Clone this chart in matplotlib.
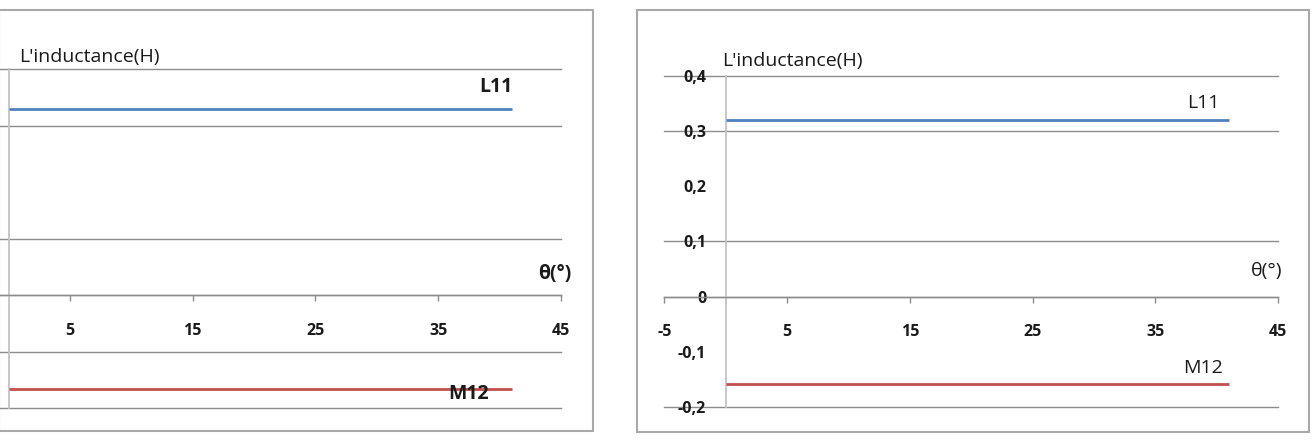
import matplotlib
matplotlib.use("Agg")
import matplotlib.pyplot as plt
import numpy as np
from matplotlib.patches import Rectangle

# ---------------- data ----------------
theta = [0, 5, 10, 15, 20, 25, 30, 35, 41]
L11_left = [0.329] * len(theta)
M12_left = [-0.166] * len(theta)
L11_right = [0.319] * len(theta)
M12_right = [-0.159] * len(theta)

x_ticks = [-5, 5, 15, 25, 35, 45]
x_tick_labels = ["-5", "5", "15", "25", "35", "45"]
y_ticks = [-0.2, -0.1, 0.0, 0.1, 0.2, 0.3, 0.4]
y_tick_labels = ["-0,2", "-0,1", "0", "0,1", "0,2", "0,3", "0,4"]
grid_left = [0.4, 0.3, 0.1, 0.0, -0.1, -0.2]
grid_right = [0.4, 0.3, 0.1, 0.0, -0.2]

ylabel_text = "L'inductance(H)"
xlabel_text = "θ(°)"
name_L = "L11"
name_M = "M12"

plt.rcParams['font.family'] = ['Open Sans', 'DejaVu Sans']

W, H = 1313, 441
fig = plt.figure(figsize=(W / 100, H / 100), dpi=100)

BLUE = "#4F81BD"
RED = "#C0504D"
GRID = "#8c8c8c"
YAX = "#c4c4c4"
FRAME = "#a8a8a8"

# frames
fig.patches.append(Rectangle((-1 / W, 10 / H), 594 / W, 421 / H, transform=fig.transFigure,
                             fill=False, ec=FRAME, lw=1.5, zorder=0))
fig.patches.append(Rectangle((637 / W, 9 / H), 672 / W, 422 / H, transform=fig.transFigure,
                             fill=False, ec=FRAME, lw=1.5, zorder=0))


def setup(ax, grid_vals, L, M, txt, cropped):
    ax.set_xlim(-5, 45)
    ax.set_ylim(-0.2, 0.4)
    ax.patch.set_alpha(0)
    for v in grid_vals:
        ax.axhline(v, color=GRID, lw=1.0, zorder=1, clip_on=False)
    for s in ['top', 'right']:
        ax.spines[s].set_visible(False)
    ax.spines['bottom'].set_position(('data', 0))
    ax.spines['bottom'].set_color(GRID)
    ax.spines['bottom'].set_linewidth(1.0)
    ax.spines['left'].set_position(('data', 0))
    ax.spines['left'].set_color(YAX)
    ax.spines['left'].set_linewidth(1.3)
    ax.set_xticks(x_ticks)
    ax.set_yticks(y_ticks)
    if cropped:
        # left chart is cut at the figure edge: its -5 label and y labels are outside
        ax.set_xticklabels([("" if t < 0 else s) for t, s in zip(x_ticks, x_tick_labels)])
        ax.set_yticklabels([])
    else:
        ax.set_xticklabels(x_tick_labels)
        ax.set_yticklabels(y_tick_labels)
    ax.tick_params(axis='x', direction='out', length=4, width=1, color=GRID,
                   pad=16, labelsize=11.5)
    ax.tick_params(axis='y', length=0, pad=14, labelsize=11.5)
    for lab in ax.get_xticklabels() + ax.get_yticklabels():
        lab.set_fontweight('bold')
        lab.set_color('#1a1a1a')
        lab.set_zorder(5)
    ax.plot(theta, L, color=BLUE, lw=2.0, zorder=3, solid_capstyle='butt')
    ax.plot(theta, M, color=RED, lw=2.0, zorder=3, solid_capstyle='butt')
    tkw = dict(fontsize=txt['fs'], color='#1a1a1a', zorder=6)
    ax.text(txt['yl'][0], txt['yl'][1], ylabel_text, ha='left', va='center', **tkw)
    ax.text(txt['L'][0], txt['L'][1], name_L, ha='center', va='center', fontweight=txt['w'], **tkw)
    ax.text(txt['th'][0], txt['th'][1], xlabel_text, ha='center', va='center', fontweight=txt['w'], **tkw)
    ax.text(txt['M'][0], txt['M'][1], name_M, ha='center', va='center', fontweight=txt['w'], **tkw)


axL = fig.add_axes([-52.75 / W, (H - 408.3) / H, 613.6 / W, (408.3 - 69.3) / H])
setup(axL, grid_left, L11_left, M12_left,
      dict(fs=14, w='bold', yl=(0.85, 0.422), L=(39.7, 0.369), th=(44.5, 0.038), M=(37.5, -0.174)),
      True)

axR = fig.add_axes([664.3 / W, (H - 407) / H, 613.7 / W, (407 - 75.7) / H])
setup(axR, grid_right, L11_right, M12_right,
      dict(fs=14, w='normal', yl=(-0.3, 0.427), L=(38.9, 0.351), th=(44.1, 0.046), M=(38.9, -0.129)),
      False)

fig.savefig("out.png", dpi=100)
